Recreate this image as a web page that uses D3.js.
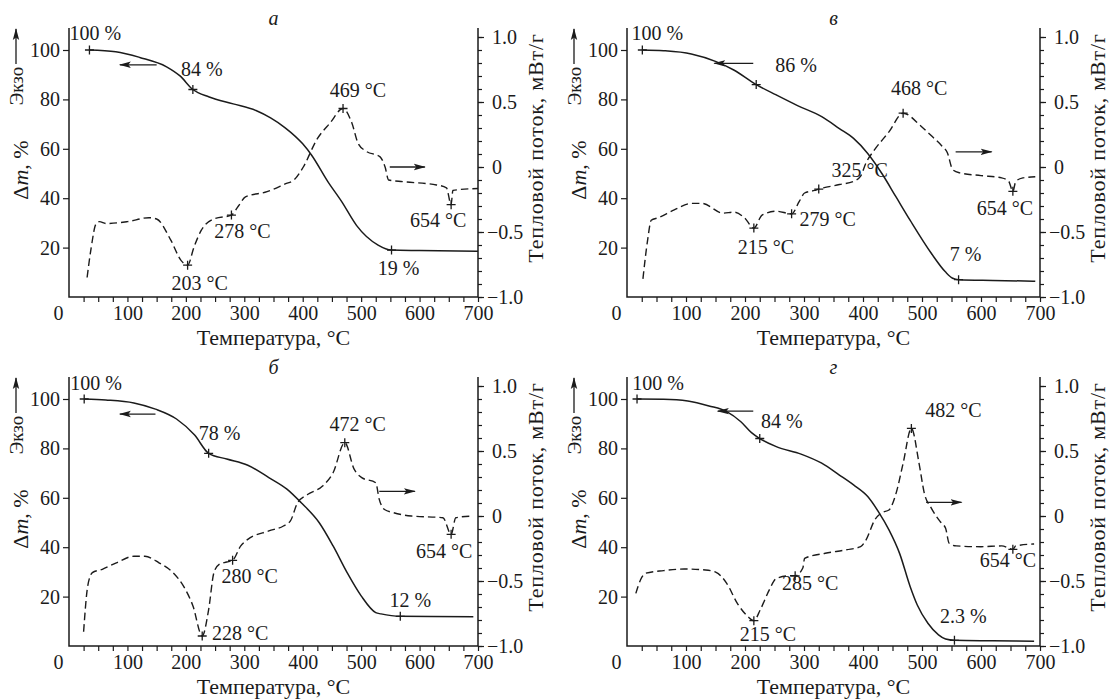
<!DOCTYPE html>
<html><head><meta charset="utf-8">
<script src="https://cdn.jsdelivr.net/npm/d3@7"></script>
<style>
html,body{margin:0;padding:0;background:#fff;}
svg{display:block;}
svg text{font-family:"Liberation Serif","DejaVu Serif",serif;}
</style></head><body>
<svg id="chart" width="1112" height="700"></svg>
<script>
// ---- Thermogravimetric (TG, %) curves: [temperature °C, mass %] ----
const tgA = [[35,100],[80,99.3],[121,97],[167,93.2],[190,89.5],[212,84],[240,81],[281,78.2],[320,75.5],[345,72.5],[370,68.5],[400,62],[415,57.5],[443,46.7],[467,38.5],[492,29],[529,21],[552,19],[600,18.8],[700,18.5]];
const tgB = [[26,100],[62,99.7],[109,98.4],[151,95.3],[181,91.9],[219,86],[253,81.8],[289,77.5],[330,73],[360,68.2],[384,64.2],[408,58.1],[432,50],[456,40.5],[480,31],[516,17.6],[540,10.1],[552,7.6],[562,7],[620,6.7],[692,6.4]];
const tgC = [[26,100],[63,99.6],[111,98.4],[148,95.9],[184,91.9],[215,85.4],[239,78],[270,75.7],[306,73.2],[342,68.2],[373,63.5],[397,58.1],[428,50],[452,40.5],[476,29.7],[500,20.3],[525,13.5],[534,13],[567,12],[620,11.9],[692,11.8]];
const tgD = [[17,100],[62,99.9],[103,99.2],[139,97.2],[169,94.9],[193,90.8],[211,86.4],[225,84],[253,80.7],[295,77.7],[330,74],[360,69.2],[384,65.2],[408,60.5],[426,54.4],[444,47],[462,37.5],[480,24],[492,16.6],[510,9.2],[528,4.5],[540,2.8],[555,2.3],[620,2.1],[690,1.9]];

// ---- DTA heat flow curves: [temperature °C, mW/g] ----
const dtaA = [[31,-0.85],[38,-0.62],[46,-0.44],[52,-0.42],[64,-0.435],[100,-0.42],[137,-0.39],[150,-0.40],[174,-0.56],[192,-0.72],[203,-0.755],[214,-0.615],[226,-0.49],[248,-0.40],[278,-0.37],[290,-0.3],[302,-0.23],[339,-0.19],[370,-0.13],[385,-0.1],[401,0.0],[424,0.21],[447,0.34],[469,0.45],[484,0.34],[495,0.18],[509,0.12],[532,0.08],[541,0.0],[547,-0.1],[572,-0.113],[629,-0.138],[646,-0.16],[654,-0.29],[657,-0.18],[700,-0.165]];
const dtaB = [[27,-0.86],[35,-0.56],[41,-0.41],[53,-0.39],[80,-0.33],[109,-0.28],[127,-0.28],[163,-0.355],[181,-0.347],[199,-0.39],[215,-0.47],[229,-0.37],[253,-0.34],[279,-0.36],[292,-0.265],[301,-0.2],[318,-0.18],[325,-0.17],[360,-0.135],[384,-0.11],[396,-0.07],[405,0.03],[420,0.135],[444,0.27],[468,0.414],[498,0.316],[516,0.24],[534,0.16],[543,0.11],[552,-0.02],[564,-0.045],[600,-0.066],[635,-0.084],[647,-0.11],[654,-0.187],[659,-0.11],[671,-0.084],[692,-0.075]];
const dtaC = [[25,-0.89],[32,-0.54],[40,-0.436],[57,-0.41],[81,-0.36],[111,-0.31],[130,-0.31],[154,-0.36],[178,-0.436],[196,-0.54],[212,-0.69],[228,-0.923],[239,-0.72],[248,-0.436],[257,-0.372],[270,-0.354],[280,-0.341],[294,-0.23],[306,-0.18],[342,-0.115],[367,-0.077],[379,-0.038],[391,0.10],[409,0.167],[434,0.23],[452,0.333],[472,0.564],[488,0.36],[501,0.295],[525,0.256],[531,0.128],[540,0.05],[555,0.026],[586,0.0],[640,-0.013],[654,-0.141],[662,-0.013],[692,0.0]];
const dtaD = [[15,-0.595],[23,-0.49],[32,-0.44],[62,-0.42],[97,-0.408],[133,-0.415],[151,-0.433],[169,-0.518],[187,-0.672],[205,-0.774],[215,-0.805],[226,-0.72],[241,-0.57],[253,-0.48],[277,-0.46],[285,-0.46],[298,-0.4],[301,-0.326],[336,-0.287],[372,-0.26],[396,-0.236],[405,-0.185],[420,-0.03],[432,0.026],[444,0.046],[456,0.174],[468,0.405],[482,0.674],[495,0.405],[504,0.174],[516,0.059],[531,-0.044],[540,-0.095],[546,-0.21],[558,-0.23],[600,-0.236],[635,-0.23],[654,-0.256],[659,-0.23],[690,-0.215]];

// ---- Marked points: [temperature, value, label] ----
const tgMarksA = [[35,100,"100 %"],[212,84,"84 %"],[552,19,"19 %"]];
const tgMarksB = [[26,100,"100 %"],[219,86,"86 %"],[562,7,"7 %"]];
const tgMarksC = [[26,100,"100 %"],[239,78,"78 %"],[567,12,"12 %"]];
const tgMarksD = [[17,100,"100 %"],[225,84,"84 %"],[555,2.3,"2.3 %"]];
const dtaMarksA = [[203,-0.755,"203 °C"],[278,-0.37,"278 °C"],[469,0.45,"469 °C"],[654,-0.29,"654 °C"]];
const dtaMarksB = [[215,-0.47,"215 °C"],[279,-0.36,"279 °C"],[325,-0.17,"325 °C"],[468,0.414,"468 °C"],[654,-0.187,"654 °C"]];
const dtaMarksC = [[228,-0.923,"228 °C"],[280,-0.341,"280 °C"],[472,0.564,"472 °C"],[654,-0.141,"654 °C"]];
const dtaMarksD = [[215,-0.805,"215 °C"],[285,-0.46,"285 °C"],[482,0.674,"482 °C"],[654,-0.256,"654 °C"]];

// ---- Axis ticks and texts ----
const xTicks = d3.range(0, 701, 25);
const xLabelled = [0,100,200,300,400,500,600,700];
const leftTicks = [20,40,60,80,100];
const rightMinor = d3.range(-10, 11).map(d => d / 10);
const rightMajor = [-1,-0.5,0,0.5,1];
const panelLetters = ["а","в","б","г"];
const xTitle = "Температура, °C";
const rightTitle = "Тепловой поток, мВт/г";
const exoText = "Экзо";

// ---- Layout ----
const frames = [
  {L:69,  R:478,  y0:297},
  {L:627, R:1040, y0:297},
  {L:69,  R:478,  y0:646},
  {L:627, R:1040, y0:646}
];
// label offsets [dx to label centre, dy to baseline] in px, per marked point
const tgOffsets = [
  [[6,-10],[9,-13.5],[7,25]],
  [[15,-10.5],[40,-13],[7,-19]],
  [[12,-9.5],[11,-13],[10,-9.5]],
  [[21,-9.5],[22,-11],[9,-17.5]]
];
const dtaOffsets = [
  [[12,25],[11,23],[15,-11.5],[-13,22]],
  [[12,26],[36,12],[41,-12],[16,-18],[-8,24]],
  [[38,4.5],[17,23],[13,-11.5],[-7,24]],
  [[14,20],[15,14.5],[42,-11.5],[-5,17.5]]
];
// direction arrows in data units: tg [from T, to T, %], dta [from T, to T, value]
const arrowSpecs = [
  {tg:[150,87,94],   dta:[549,609,0.0]},
  {tg:[214,148,94.6],dta:[557,618,0.117]},
  {tg:[148,87,93.9], dta:[531,592,0.19]},
  {tg:[214,154,95.1],dta:[507,567,0.105]}
];

const tgSeries = [tgA, tgB, tgC, tgD];
const dtaSeries = [dtaA, dtaB, dtaC, dtaD];
const tgMarks = [tgMarksA, tgMarksB, tgMarksC, tgMarksD];
const dtaMarks = [dtaMarksA, dtaMarksB, dtaMarksC, dtaMarksD];

const ink = "#1b1b1b";
const serif = '"Liberation Serif","DejaVu Serif",serif';
const svg = d3.select("#chart");

svg.append("defs").append("marker")
  .attr("id","head").attr("viewBox","0 -4 12 8")
  .attr("refX",11).attr("refY",0)
  .attr("markerWidth",12).attr("markerHeight",8)
  .attr("markerUnits","userSpaceOnUse").attr("orient","auto")
  .append("path").attr("d","M0,-3.2L12,0L0,3.2L2.5,0Z").attr("fill",ink);

// strip d3's default axis font and colour so the serif face applies
function styleAxis(sel, size) {
  sel.attr("font-family", serif).attr("font-size", size);
  sel.select(".domain").remove();
  sel.selectAll(".tick line").attr("stroke", ink).attr("stroke-width", 1.2);
  sel.selectAll("text").attr("fill", ink);
}

frames.forEach((f, i) => {
  const g = svg.append("g").attr("font-family", serif);
  const x = d3.scaleLinear().domain([0,700]).range([f.L, f.R]);
  const yL = d3.scaleLinear().domain([0,100]).range([f.y0, f.y0 - 247]);
  const yR = d3.scaleLinear().domain([-1,1]).range([f.y0, f.y0 - 260]);
  const top = f.y0 - 269;

  // frame lines (left, bottom, right)
  g.append("path")
    .attr("d", `M${f.L},${top}V${f.y0}H${f.R}V${top}`)
    .attr("fill","none").attr("stroke",ink).attr("stroke-width",1.5);

  // bottom axis
  const xa = g.append("g").attr("transform",`translate(0,${f.y0})`)
    .call(d3.axisBottom(x).tickValues(xTicks).tickSize(5).tickSizeOuter(0).tickPadding(4)
      .tickFormat(d => xLabelled.includes(d) ? d : ""));
  styleAxis(xa, 20);
  xa.selectAll(".tick").filter(d => d === 0).select("line").remove();
  xa.selectAll(".tick").filter(d => d === 0).select("text").attr("x",-11);

  // left axis
  const la = g.append("g").attr("transform",`translate(${f.L},0)`)
    .call(d3.axisLeft(yL).tickValues(leftTicks).tickSize(6).tickSizeOuter(0).tickPadding(3));
  styleAxis(la, 20);

  // right axis: minor ticks, then the labelled majors
  const ra = g.append("g").attr("transform",`translate(${f.R},0)`)
    .call(d3.axisRight(yR).tickValues(rightMinor).tickSize(4).tickSizeOuter(0).tickFormat(""));
  styleAxis(ra, 20);
  const rb = g.append("g").attr("transform",`translate(${f.R},0)`)
    .call(d3.axisRight(yR).tickValues(rightMajor).tickSize(6).tickSizeOuter(0)
      .tickFormat(d => d === 0 ? "0" : d3.format(".1f")(d)));
  styleAxis(rb, 20);
  rb.selectAll("text").attr("x", d => d < 0 ? 9 : 14);

  // curves
  const tgLine = d3.line().x(d => x(d[0])).y(d => yL(d[1])).curve(d3.curveMonotoneX);
  const dtaLine = d3.line().x(d => x(d[0])).y(d => yR(d[1])).curve(d3.curveMonotoneX);
  g.append("path").datum(tgSeries[i]).attr("d", tgLine)
    .attr("fill","none").attr("stroke",ink).attr("stroke-width",1.5);
  g.append("path").datum(dtaSeries[i]).attr("d", dtaLine)
    .attr("fill","none").attr("stroke",ink).attr("stroke-width",1.4)
    .attr("stroke-dasharray","7.5,4");

  // crosses and their labels
  const cross = (cx, cy) => g.append("path")
    .attr("d", `M${cx-4.5},${cy}H${cx+4.5}M${cx},${cy-4.5}V${cy+4.5}`)
    .attr("stroke",ink).attr("stroke-width",1.3);
  const label = (cx, cy, t) => g.append("text")
    .attr("x",cx).attr("y",cy).attr("text-anchor","middle")
    .attr("font-size",20).attr("fill",ink).text(t);
  tgMarks[i].forEach((m, k) => {
    const cx = x(m[0]), cy = yL(m[1]);
    cross(cx, cy);
    label(cx + tgOffsets[i][k][0], cy + tgOffsets[i][k][1], m[2]);
  });
  dtaMarks[i].forEach((m, k) => {
    const cx = x(m[0]), cy = yR(m[1]);
    cross(cx, cy);
    label(cx + dtaOffsets[i][k][0], cy + dtaOffsets[i][k][1], m[2]);
  });

  // direction arrows
  const a = arrowSpecs[i];
  g.append("line").attr("x1",x(a.tg[0])).attr("x2",x(a.tg[1]))
    .attr("y1",yL(a.tg[2])).attr("y2",yL(a.tg[2]))
    .attr("stroke",ink).attr("stroke-width",1.3).attr("marker-end","url(#head)");
  g.append("line").attr("x1",x(a.dta[0])).attr("x2",x(a.dta[1]))
    .attr("y1",yR(a.dta[2])).attr("y2",yR(a.dta[2]))
    .attr("stroke",ink).attr("stroke-width",1.3).attr("marker-end","url(#head)");

  // axis titles
  const y100 = yL(100);
  const ex = f.L - 53;
  g.append("line").attr("x1",ex).attr("x2",ex).attr("y1",y100 + 14).attr("y2",y100 - 21)
    .attr("stroke",ink).attr("stroke-width",1.3).attr("marker-end","url(#head)");
  g.append("text").attr("transform",`translate(${ex + 7},${y100 + 36}) rotate(-90)`)
    .attr("text-anchor","middle").attr("font-size",19).attr("fill",ink).text(exoText);
  const dm = g.append("text").attr("transform",`translate(${ex + 12},${y100 + 120}) rotate(-90)`)
    .attr("text-anchor","middle").attr("font-size",22).attr("fill",ink);
  dm.append("tspan").text("Δ");
  dm.append("tspan").attr("font-style","italic").text("m");
  dm.append("tspan").text(", %");

  g.append("text").attr("transform",`translate(${f.R + 65},${f.y0 - 149}) rotate(-90)`)
    .attr("text-anchor","middle").attr("font-size",22).attr("letter-spacing",0.8)
    .attr("fill",ink).text(rightTitle);

  g.append("text").attr("x",(f.L + f.R) / 2).attr("y",f.y0 + 47.5)
    .attr("text-anchor","middle").attr("font-size",22).attr("fill",ink).text(xTitle);

  g.append("text").attr("x",(f.L + f.R) / 2).attr("y",f.y0 - 272)
    .attr("text-anchor","middle").attr("font-size",20).attr("font-style","italic")
    .attr("fill",ink).text(panelLetters[i]);
});
</script>
</body></html>
